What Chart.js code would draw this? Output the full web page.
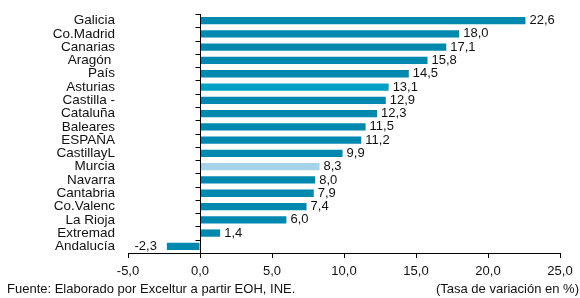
<!DOCTYPE html>
<html lang="es">
<head>
<meta charset="UTF-8">
<title>Tasa de variación</title>
<style>
  html, body { margin: 0; padding: 0; background: #fff; }
  #wrap { width: 580px; height: 298px; }
</style>
</head>
<body>
<div id="wrap"><canvas id="myChart" width="580" height="298"></canvas></div>
<script src="https://cdn.jsdelivr.net/npm/chart.js"></script>
<script>
const regiones = ['Galicia', 'Co.Madrid', 'Canarias', 'Aragón ', 'País', 'Asturias', 'Castilla -', 'Cataluña',
  'Baleares', 'ESPAÑA', 'CastillayL', 'Murcia', 'Navarra', 'Cantabria', 'Co.Valenc', 'La Rioja', 'Extremad', 'Andalucía']
const valores = [22.6, 18.0, 17.1, 15.8, 14.5, 13.1, 12.9, 12.3, 11.5, 11.2, 9.9, 8.3, 8.0, 7.9, 7.4, 6.0, 1.4, -2.3]
const ejeMin = -5, ejeMax = 25, ejePaso = 5
const fuente = 'Fuente: Elaborado por Exceltur a partir EOH, INE.'
const unidad = '(Tasa de variación en %)'

const fmt = v => v.toFixed(1).replace('.', ',')
const font = 'Liberation Sans, Arial, sans-serif'

function barColor(ctx) {
  const lab = regiones[ctx.dataIndex]
  if (lab === 'Murcia') return '#a7d3e8'
  if (lab === 'Asturias') return '#009fc6'
  return '#0088ae'
}

// zero line with little ticks between the categories
const zeroAxis = {
  id: 'zeroAxis',
  afterDatasetsDraw(chart) {
    const { ctx, scales: { x, y } } = chart
    const x0 = Math.round(x.getPixelForValue(0)) + 0.5
    const half = (y.getPixelForValue(1) - y.getPixelForValue(0)) / 2
    ctx.save()
    ctx.strokeStyle = '#000'
    ctx.lineWidth = 1
    ctx.beginPath()
    ctx.moveTo(x0, y.top)
    ctx.lineTo(x0, y.bottom)
    for (let i = 0; i <= regiones.length; i++) {
      const yy = Math.round(y.getPixelForValue(i) - half) + 0.5
      ctx.moveTo(x0 - 5, yy)
      ctx.lineTo(x0, yy)
    }
    ctx.stroke()
    ctx.restore()
  }
}

const valueLabels = {
  id: 'valueLabels',
  afterDatasetsDraw(chart) {
    const { ctx } = chart
    const meta = chart.getDatasetMeta(0)
    ctx.save()
    ctx.font = '13px ' + font
    ctx.fillStyle = '#111'
    ctx.textBaseline = 'middle'
    meta.data.forEach((bar, i) => {
      const v = valores[i]
      if (v < 0) {
        ctx.textAlign = 'right'
        ctx.fillText(fmt(v), bar.x - 10, bar.y)
      } else {
        ctx.textAlign = 'left'
        ctx.fillText(fmt(v), bar.x + 4, bar.y)
      }
    })
    ctx.restore()
  }
}

const footer = {
  id: 'footer',
  afterDraw(chart) {
    const { ctx } = chart
    ctx.save()
    ctx.font = '13px ' + font
    ctx.fillStyle = '#111'
    ctx.textBaseline = 'middle'
    ctx.textAlign = 'left'
    ctx.fillText(fuente, 7, 289)
    ctx.textAlign = 'right'
    ctx.fillText(unidad, 579, 289)
    ctx.restore()
  }
}

const chart = new Chart(document.getElementById('myChart'), {
  type: 'bar',
  data: {
    labels: regiones,
    datasets: [{
      data: valores,
      backgroundColor: barColor,
      barPercentage: 0.55,
      categoryPercentage: 1
    }]
  },
  options: {
    indexAxis: 'y',
    responsive: false,
    animation: false,
    layout: { padding: { top: 14, right: 20, bottom: 21, left: 0 } },
    plugins: { legend: { display: false }, tooltip: { enabled: false } },
    scales: {
      x: {
        min: ejeMin, max: ejeMax,
        afterFit: s => { s.height = 24 },
        grid: { drawOnChartArea: false, tickLength: 5, color: '#000' },
        border: { color: '#000' },
        ticks: { stepSize: ejePaso, padding: 6, color: '#111', font: { family: font, size: 13 }, callback: v => fmt(v) }
      },
      y: {
        afterFit: s => { s.width = 128; s.paddingTop = 0; s.paddingBottom = 0 },
        grid: { display: false, drawTicks: false },
        border: { display: false },
        ticks: { padding: 13, autoSkip: false, color: '#111', font: { family: font, size: 13.5 } }
      }
    }
  },
  plugins: [zeroAxis, valueLabels, footer]
})
</script>
</body>
</html>
